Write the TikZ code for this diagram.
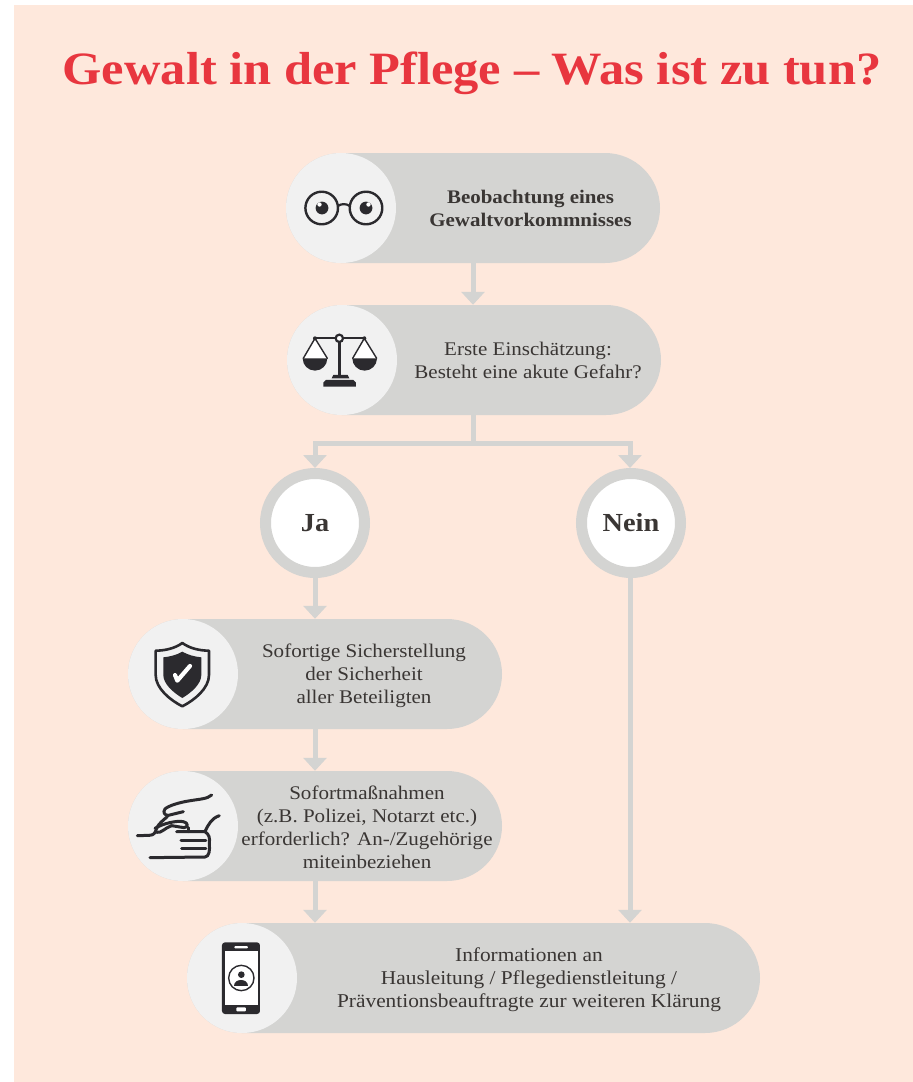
\documentclass[tikz,border=0pt]{standalone}
\usepackage{fontspec}
\setmainfont{Liberation Serif}[FakeStretch=1.09]
\usetikzlibrary{arrows.meta,shapes.misc}
\definecolor{bgc}{HTML}{FEE8DC}
\definecolor{pillc}{HTML}{D4D4D2}
\definecolor{circc}{HTML}{F1F1F1}
\definecolor{titlec}{HTML}{E8363F}
\definecolor{iconc}{HTML}{2B2A2E}
\definecolor{textc}{HTML}{3A3634}
\tikzset{
  pill/.style={rounded rectangle,fill=pillc,inner sep=0pt,minimum height=110pt},
  disc/.style={circle,fill=circc,inner sep=0pt,minimum size=110pt},
  ringnode/.style={circle,fill=white,draw=pillc,line width=11pt,inner sep=0pt,minimum size=99pt,text=textc,font=\fontsize{26}{30}\selectfont\bfseries},
  lab/.style={align=center,text=textc,font=\fontsize{19.3}{23}\selectfont},
  arr/.style={draw=pillc,line width=5pt,-{Triangle[width=23pt,length=13pt]}},
  lin/.style={draw=pillc,line width=5pt},
  ico/.style={draw=iconc,line cap=round,line join=round},
  zoomA/.style={shift={(120,610)},x=0.3333pt,y=-0.3333pt},
}
\begin{document}
\begin{tikzpicture}[x=1pt,y=-1pt]
\useasboundingbox (0,0) rectangle (913,1082);
\fill[white] (0,0) rectangle (913,1082);
\fill[bgc] (14,5) rectangle (913,1082);
\node[text=titlec,font=\fontsize{46.3}{54}\selectfont\bfseries] (title) at (472,73) {Gewalt in der Pflege – Was ist zu tun?};
% pills
\node[pill,minimum width=374pt] (p1) at (473,208) {};
\node[pill,minimum width=374pt] (p2) at (474,360) {};
\node[pill,minimum width=374pt] (p3) at (315,674) {};
\node[pill,minimum width=374pt] (p4) at (315,826) {};
\node[pill,minimum width=573pt] (p5) at (473.5,978) {};
\node[disc] (d1) at (341,208) {};
\node[disc] (d2) at (342,360) {};
\node[disc] (d3) at (183,674) {};
\node[disc] (d4) at (183,826) {};
\node[disc] (d5) at (242,978) {};
% decision nodes
\node[ringnode] (ja) at (315,523) {Ja};
\node[ringnode] (nein) at (631,523) {Nein};
% labels
\node[lab,font=\fontsize{19.2}{23}\selectfont\bfseries] (t1) at (530.5,208) {Beobachtung eines\\Gewaltvorkommnisses};
\node[lab] (t2) at (528,360) {Erste Einschätzung:\\Besteht eine akute Gefahr?};
\node[lab] (t3) at (364,675.5) {Sofortige Sicherstellung\\der Sicherheit\\aller Beteiligten};
\node[lab] (t4) at (367,827) {Sofortmaßnahmen\\(z.B. Polizei, Notarzt etc.)\\erforderlich? An-/Zugehörige\\miteinbeziehen};
\node[lab,font=\fontsize{19.6}{23}\selectfont] (t5) at (529,980) {Informationen an\\Hausleitung / Pflegedienstleitung /\\Präventionsbeauftragte zur weiteren Klärung};
% connectors
\coordinate (fork) at (473.5,443);
\draw[arr] (p1.south) -- (p2.north -| p1.south);
\draw[lin] (p2.south -| fork) -- (fork);
\draw[arr] (fork) -| (ja.north);
\draw[arr] (fork) -| ([xshift=-1pt]nein.north);
\draw[arr] (ja.south) -- (p3.north);
\draw[arr] (p3.south) -- (p4.north);
\draw[arr] (p4.south) -- (p4.south |- p5.north);
\draw[arr] ([xshift=-1pt]nein.south) -- ([xshift=-1pt]nein.south |- p5.north);
% glasses
\begin{scope}[ico]
\draw[line width=2.4pt] (321.7,208) circle (16.3) (366,208) circle (16.3);
\draw[line width=2.2pt] (338,206) .. controls (341,203.5) and (346.5,203.5) .. (349.7,206);
\fill[iconc] (322,208) circle (6.4) (366,208) circle (6.4);
\fill[white] (319.5,204.5) circle (2.2);
\fill[white] (368.5,204.5) circle (2.2);
\end{scope}
% scales
\begin{scope}[shift={(280,140)},x=0.3333pt,y=-0.3333pt]
\fill[white] (105,600) -- (70,655) -- (142,655) -- cycle;
\fill[white] (253,600) -- (218,655) -- (290,655) -- cycle;
\draw[ico,line width=1.4pt] (70,655) -- (105,595) -- (142,655) (218,655) -- (253,595) -- (290,655);
\draw[ico,line width=2.2pt] (105,595) -- (253,595);
\draw[ico,line width=3pt,line cap=butt] (178,600) -- (178,710);
\fill[iconc] (105,595) circle (6) (253,595) circle (6);
\filldraw[draw=iconc,fill=white,line width=2.2pt] (178,595) circle (11);
\fill[iconc] (68,655) -- (142,655) arc[start angle=0,end angle=180,radius=37] -- cycle;
\fill[iconc] (217,655) -- (291,655) arc[start angle=0,end angle=180,radius=37] -- cycle;
\fill[iconc] (155,715) -- (160,705) -- (203,705) -- (208,715) -- cycle;
\fill[iconc] (130,740) -- (130,728) -- (138,720) -- (220,720) -- (228,728) -- (228,740) -- cycle;
\end{scope}
% shield
\begin{scope}[zoomA]
\draw[ico,line width=2.6pt] (187,99) .. controls (165,115) and (135,122) .. (107,122) -- (107,195) .. controls (107,235) and (150,270) .. (187,289) .. controls (224,270) and (267,235) .. (267,195) -- (267,122) .. controls (239,122) and (209,115) .. (187,99) -- cycle;
\fill[iconc] (187,125) .. controls (170,135) and (150,140) .. (130,142) -- (130,195) .. controls (130,222) and (160,248) .. (187,264) .. controls (214,248) and (244,222) .. (244,195) -- (244,142) .. controls (224,140) and (204,135) .. (187,125) -- cycle;
\draw[white,line width=4.2pt,line cap=round,line join=round] (165,195) -- (172,212) -- (210,168);
\end{scope}
% hand
\begin{scope}[shift={(130,785)},x=0.3333pt,y=-0.3333pt,ico,line width=3pt]
\draw (245,30) .. controls (232,42) and (210,42) .. (175,48) .. controls (150,52) and (115,62) .. (105,72) .. controls (97,82) and (105,92) .. (115,91) -- (160,80);
\draw (22,152) -- (58,151) .. controls (72,150) and (75,145) .. (80,130) .. controls (84,118) and (100,105) .. (112,95);
\draw (80,142) .. controls (95,145) and (105,128) .. (125,122) -- (162,128) .. controls (175,128) and (175,112) .. (160,110) .. controls (140,106) and (100,115) .. (75,130);
\draw (268,92) .. controls (245,100) and (235,118) .. (225,140) -- (140,140);
\draw (175,128) -- (175,140);
\draw (153,165) -- (228,165);
\draw (155,190) -- (228,190);
\draw (225,140) .. controls (238,148) and (240,160) .. (238,175) .. controls (240,195) and (238,215) .. (225,216) -- (60,218);
\end{scope}
% phone
\begin{scope}[shift={(180,900)},x=0.3333pt,y=-0.3333pt]
\fill[iconc,rounded corners=3pt] (126,127) rectangle (240,342);
\fill[white] (134,152) rectangle (233,315);
\fill[white,rounded corners=1pt] (163,138) rectangle (204,145);
\fill[white,rounded corners=1pt] (169,322) rectangle (198,334);
\draw[iconc,line width=1.4pt] (184,234) circle (38);
\fill[iconc] (184,224) circle (10);
\fill[iconc] (163,258) .. controls (163,235) and (205,235) .. (205,258) -- cycle;
\end{scope}
\end{tikzpicture}
\end{document}
